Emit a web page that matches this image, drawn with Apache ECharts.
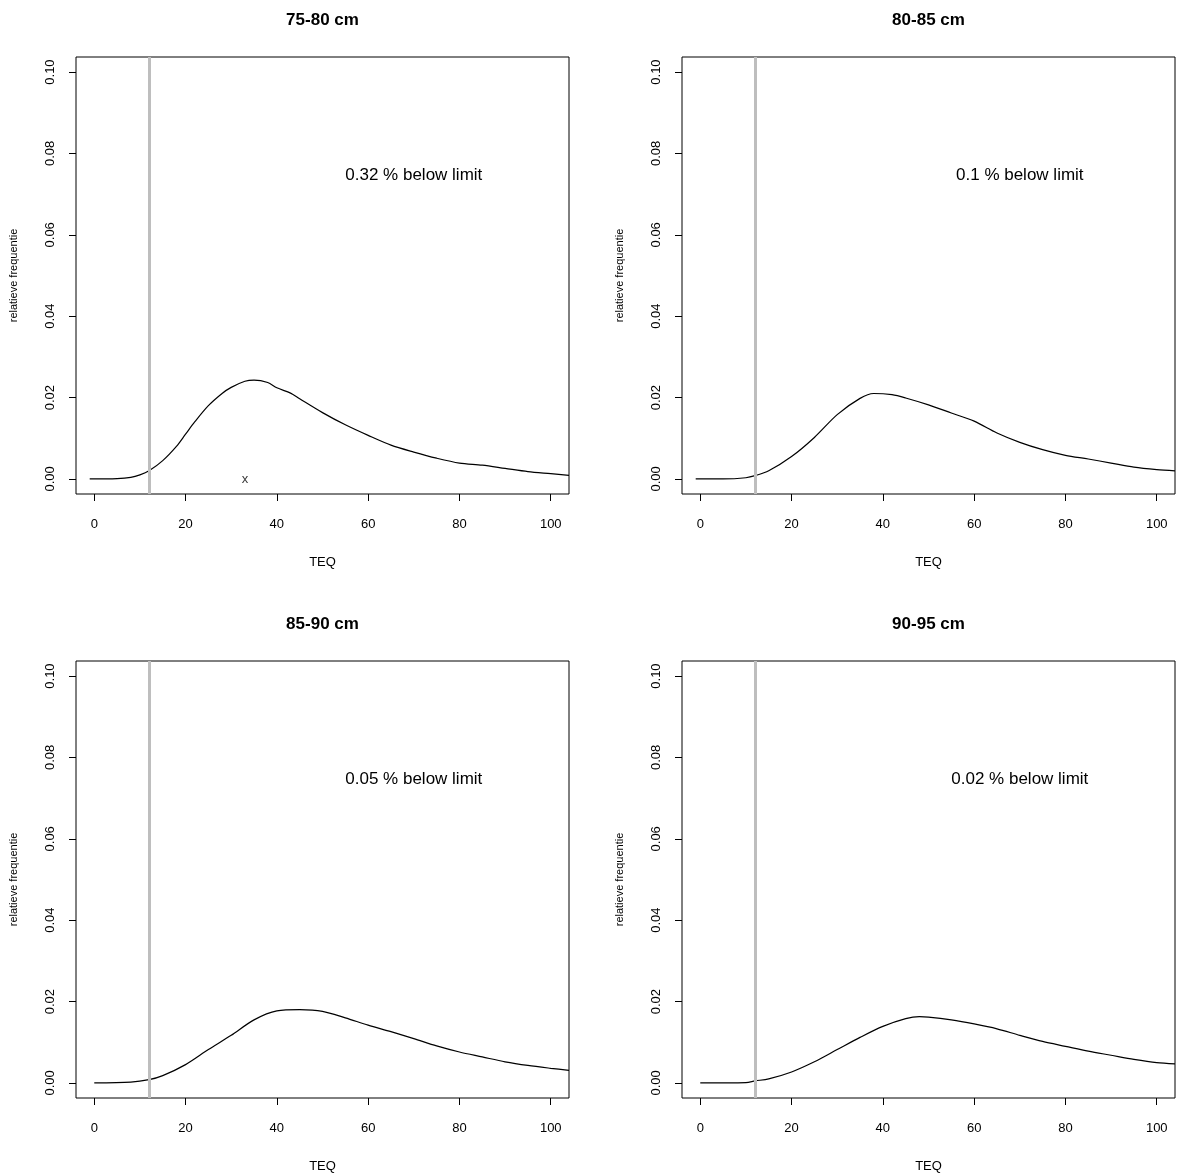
<!DOCTYPE html>
<html>
<head>
<meta charset="utf-8">
<script src="https://cdn.jsdelivr.net/npm/echarts@6/dist/echarts.min.js"></script>
<style>html,body{margin:0;padding:0;background:#fff}#c{width:1177px;height:1176px}</style>
</head>
<body>
<div id="c"></div>
<script>
// Panelen
const titles = ['75-80 cm', '80-85 cm', '85-90 cm', '90-95 cm'];
const notes = ['0.32 % below limit', '0.1 % below limit', '0.05 % below limit', '0.02 % below limit'];
const limit = 12;
const xTicks = [0, 20, 40, 60, 80, 100];
const yTicks = [0, 0.02, 0.04, 0.06, 0.08, 0.1];

const curve1 = [[-1,0],[5,0.0001],[8,0.0004],[10,0.001],[12,0.002],[15,0.0045],[18,0.008],[20,0.011],[22,0.014],[25,0.018],[28,0.021],[30,0.0225],[33,0.024],[35,0.0243],[38,0.0237],[40,0.0224],[43,0.0211],[45,0.0197],[50,0.0163],[55,0.0133],[60,0.0107],[65,0.0083],[70,0.0066],[75,0.0051],[80,0.0039],[85,0.0034],[90,0.0026],[95,0.0018],[100,0.0013],[104,0.0009]];
const curve2 = [[-1,0],[5,0],[10,0.0003],[12,0.0008],[15,0.002],[20,0.0055],[25,0.0102],[30,0.0158],[35,0.0198],[38,0.021],[42,0.0207],[45,0.0199],[50,0.0182],[55,0.0162],[60,0.0142],[65,0.0113],[70,0.009],[75,0.0072],[80,0.0058],[85,0.0049],[90,0.0039],[95,0.0029],[100,0.0023],[104,0.002]];
const curve3 = [[0,0],[8,0.0002],[12,0.0008],[15,0.0018],[20,0.0045],[25,0.0082],[30,0.0117],[35,0.0155],[40,0.0177],[45,0.018],[50,0.0176],[55,0.016],[60,0.0142],[65,0.0126],[70,0.0109],[75,0.0091],[80,0.0076],[85,0.0064],[90,0.0052],[95,0.0043],[100,0.0036],[104,0.0031]];
const curve4 = [[0,0],[10,0.0001],[12,0.0005],[15,0.001],[20,0.0027],[25,0.0052],[30,0.0082],[35,0.0112],[40,0.0139],[45,0.0158],[48,0.0163],[50,0.0162],[55,0.0155],[60,0.0145],[65,0.0133],[70,0.0117],[75,0.0102],[80,0.009],[85,0.0078],[90,0.0068],[95,0.0058],[100,0.005],[104,0.0047]];
const curves = [curve1, curve2, curve3, curve4];
const marker1 = [[33, 0]];

const lefts = [76, 682, 76, 682];
const tops = [57, 57, 661, 661];
const W = 493, H = 437;
const font = 'Liberation Sans, Arial, sans-serif';

const chart = echarts.init(document.getElementById('c'));
const grid = [], xAxis = [], yAxis = [], series = [], graphic = [];
for (let i = 0; i < 4; i++) {
  grid.push({left: lefts[i], top: tops[i], width: W, height: H, show: true, borderColor: '#000', borderWidth: 1, backgroundColor: 'transparent'});
  xAxis.push({
    type: 'value', gridIndex: i, min: -4, max: 104, position: 'bottom',
    axisLine: {show: false, onZero: false},
    axisTick: {show: true, length: 7, lineStyle: {color: '#000'}, customValues: xTicks},
    axisLabel: {color: '#000', fontFamily: font, fontSize: 13, margin: 24, customValues: xTicks},
    splitLine: {show: false},
    name: 'TEQ', nameLocation: 'middle', nameGap: 62,
    nameTextStyle: {color: '#000', fontFamily: font, fontSize: 13}
  });
  yAxis.push({
    type: 'value', gridIndex: i, min: -0.0037, max: 0.1037, position: 'left',
    axisLine: {show: false, onZero: false},
    axisTick: {show: true, length: 7, lineStyle: {color: '#000'}, customValues: yTicks},
    axisLabel: {color: '#000', fontFamily: font, fontSize: 13, margin: 19, rotate: 90,
      customValues: yTicks, formatter: v => v.toFixed(2)},
    splitLine: {show: false},
    name: 'relatieve frequentie', nameLocation: 'middle', nameGap: 57,
    nameTextStyle: {color: '#000', fontFamily: font, fontSize: 11}
  });
  series.push({
    type: 'line', xAxisIndex: i, yAxisIndex: i, data: curves[i], smooth: 0.3, showSymbol: false,
    lineStyle: {color: '#000', width: 1.2},
    markLine: {silent: true, symbol: 'none', label: {show: false},
      lineStyle: {color: '#bebebe', width: 3, type: 'solid'},
      data: [[{coord: [limit, -0.0037]}, {coord: [limit, 0.1037]}]]},
    markPoint: {symbol: 'circle', symbolSize: 0, silent: true,
      label: {show: true, color: '#000', fontFamily: font, fontSize: 17, formatter: notes[i]},
      data: [{coord: [70, 0.0745]}]}
  });
  graphic.push({type: 'text', x: lefts[i] + W / 2, y: tops[i] - 45,
    style: {text: titles[i], fill: '#000', font: 'bold 17px ' + font, textAlign: 'center'}});
}
series.push({type: 'scatter', xAxisIndex: 0, yAxisIndex: 0, data: marker1, symbolSize: 0,
  label: {show: true, position: 'inside', formatter: 'x', color: '#000', fontFamily: font, fontSize: 13}});

chart.setOption({animation: false, grid, xAxis, yAxis, series, graphic});
</script>
</body>
</html>
